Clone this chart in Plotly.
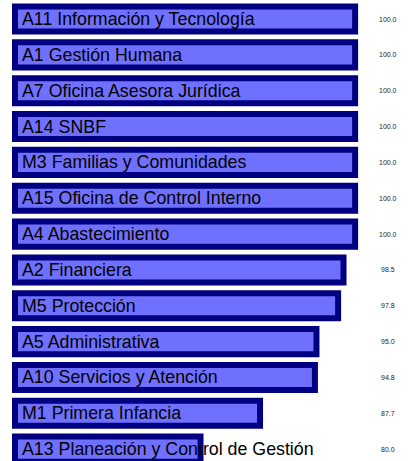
import plotly.graph_objects as go

categories = [
    "A11 Información y Tecnología",
    "A1 Gestión Humana",
    "A7 Oficina Asesora Jurídica",
    "A14 SNBF",
    "M3 Familias y Comunidades",
    "A15 Oficina de Control Interno",
    "A4 Abastecimiento",
    "A2 Financiera",
    "M5 Protección",
    "A5 Administrativa",
    "A10 Servicios y Atención",
    "M1 Primera Infancia",
    "A13 Planeación y Control de Gestión",
]
values = [100.0, 100.0, 100.0, 100.0, 100.0, 100.0, 100.0, 98.5, 97.8, 95.0, 94.8, 87.7, 80.0]

BASE = 56.0
X_RANGE = [54.06, 107.1]
Y_RANGE = [12.33, -0.53]

fig = go.Figure()
fig.add_trace(go.Bar(
    y=categories,
    x=[v - BASE for v in values],
    base=BASE,
    orientation="h",
    width=0.70,
    marker=dict(color="#7070FF", line=dict(color="#000080", width=6)),
    hoverinfo="skip",
    showlegend=False,
))

for c, v in zip(categories, values):
    fig.add_annotation(
        x=BASE, y=c, xref="x", yref="y", text=c, showarrow=False,
        xanchor="left", yanchor="middle", xshift=5,
        font=dict(family="Liberation Sans, Arial, sans-serif", size=17.8, color="#000000"),
    )
    fig.add_annotation(
        x=388 / 410, y=c, xref="paper", yref="y", text=f"{v:.1f}", showarrow=False,
        xanchor="center", yanchor="middle",
        font=dict(family="Liberation Sans, Arial, sans-serif", size=7, color="#222222"),
    )

fig.update_layout(
    width=410, height=461,
    margin=dict(l=0, r=0, t=0, b=0),
    paper_bgcolor="white", plot_bgcolor="white",
    xaxis=dict(range=X_RANGE, showgrid=False, zeroline=False, showticklabels=False, showline=False, ticks=""),
    yaxis=dict(range=Y_RANGE, type="category", showgrid=False, zeroline=False, showticklabels=False, showline=False, ticks=""),
)

fig.write_html(
    "out.html",
    config={"displayModeBar": False, "staticPlot": True},
    post_script="document.body.style.margin='0';document.body.style.overflow='hidden';",
)
